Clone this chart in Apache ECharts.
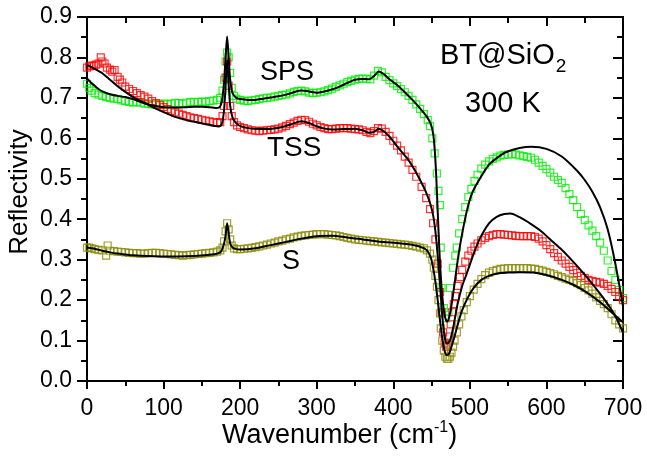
<!DOCTYPE html>
<html>
<head>
<meta charset="utf-8">
<script src="https://cdn.jsdelivr.net/npm/echarts@6/dist/echarts.min.js"></script>
<style>html,body{margin:0;padding:0;background:#fff}#c{width:647px;height:459px}</style>
</head>
<body>
<div id="c"></div>
<script>
// ---- data (wavenumber, reflectivity) ----
const xTicks = [0,100,200,300,400,500,600,700];
const yTicks = [0.0,0.1,0.2,0.3,0.4,0.5,0.6,0.7,0.8,0.9];

const spsData = [[0,0.735],[3,0.725],[6,0.718],[10,0.712],[15,0.708],[20,0.705],[25,0.702],[30,0.700],[35,0.698],[40,0.697],[45,0.694],[50,0.692],[55,0.690],[60,0.688],[65,0.690],[70,0.688],[75,0.686],[80,0.685],[85,0.684],[90,0.683],[95,0.685],[100,0.686],[105,0.684],[110,0.686],[115,0.688],[120,0.687],[125,0.686],[130,0.688],[135,0.690],[140,0.689],[145,0.690],[150,0.691],[155,0.690],[160,0.692],[165,0.693],[170,0.695],[174,0.700],[177,0.718],[179,0.745],[181,0.790],[183,0.812],[185,0.800],[187,0.762],[189,0.725],[192,0.705],[195,0.698],[200,0.695],[205,0.693],[210,0.692],[215,0.694],[220,0.695],[225,0.697],[230,0.699],[235,0.700],[240,0.701],[245,0.703],[250,0.705],[255,0.707],[260,0.708],[265,0.711],[270,0.715],[275,0.717],[280,0.718],[285,0.716],[290,0.713],[295,0.712],[300,0.713],[305,0.714],[310,0.716],[315,0.719],[320,0.723],[325,0.727],[330,0.731],[335,0.735],[340,0.739],[345,0.742],[350,0.745],[355,0.747],[360,0.748],[365,0.747],[370,0.746],[375,0.755],[380,0.767],[385,0.763],[390,0.752],[395,0.744],[400,0.736],[405,0.729],[410,0.722],[415,0.714],[420,0.705],[425,0.695],[430,0.684],[435,0.673],[440,0.660],[445,0.645],[448,0.630],[451,0.600],[454,0.563],[457,0.513],[459,0.470],[461,0.435],[462,0.330],[463,0.230],[466,0.180],[469,0.155],[472,0.170],[474,0.230],[478,0.280],[481,0.310],[483,0.330],[486,0.365],[490,0.400],[494,0.430],[498,0.455],[502,0.475],[506,0.495],[510,0.510],[515,0.525],[520,0.535],[525,0.543],[530,0.549],[535,0.553],[540,0.557],[545,0.559],[550,0.560],[555,0.561],[560,0.560],[565,0.558],[570,0.556],[575,0.554],[580,0.552],[585,0.547],[590,0.540],[595,0.532],[600,0.524],[605,0.515],[610,0.505],[615,0.497],[620,0.490],[625,0.477],[630,0.462],[635,0.447],[640,0.430],[645,0.413],[650,0.398],[655,0.385],[660,0.372],[665,0.358],[670,0.342],[675,0.322],[680,0.298],[685,0.272],[690,0.250],[695,0.225],[700,0.205]];

const spsFit = [[0,0.748],[5,0.738],[10,0.730],[15,0.722],[20,0.716],[30,0.709],[40,0.705],[50,0.702],[60,0.697],[70,0.690],[80,0.684],[90,0.680],[100,0.677],[110,0.676],[120,0.676],[130,0.677],[140,0.678],[150,0.678],[160,0.677],[168,0.675],[173,0.677],[176,0.690],[179,0.740],[181,0.800],[183,0.852],[185,0.800],[187,0.745],[190,0.712],[195,0.700],[200,0.697],[210,0.695],[220,0.695],[230,0.698],[240,0.701],[250,0.704],[260,0.708],[270,0.714],[280,0.718],[290,0.716],[300,0.713],[310,0.716],[320,0.721],[330,0.728],[340,0.737],[350,0.745],[360,0.747],[368,0.746],[375,0.754],[381,0.765],[388,0.758],[395,0.746],[405,0.732],[415,0.714],[425,0.695],[435,0.674],[444,0.653],[449,0.635],[452,0.612],[454,0.575],[456,0.510],[458,0.420],[460,0.330],[462,0.260],[464,0.210],[466,0.175],[468,0.155],[470,0.147],[472,0.152],[475,0.175],[480,0.240],[485,0.310],[490,0.365],[496,0.420],[503,0.465],[513,0.500],[525,0.535],[540,0.558],[550,0.568],[565,0.576],[580,0.579],[600,0.574],[620,0.555],[640,0.520],[650,0.497],[660,0.468],[670,0.430],[680,0.375],[690,0.290],[700,0.185]];

const tssData = [[0,0.775],[3,0.778],[6,0.780],[9,0.780],[12,0.782],[15,0.785],[18,0.800],[20,0.790],[23,0.785],[26,0.775],[30,0.770],[33,0.765],[36,0.769],[40,0.752],[43,0.745],[46,0.738],[50,0.728],[55,0.722],[60,0.717],[65,0.712],[70,0.707],[75,0.703],[80,0.698],[85,0.692],[90,0.687],[95,0.682],[100,0.677],[105,0.672],[110,0.668],[115,0.664],[120,0.661],[125,0.658],[130,0.655],[135,0.652],[140,0.650],[145,0.648],[150,0.646],[155,0.644],[160,0.642],[165,0.640],[170,0.638],[174,0.640],[177,0.655],[179,0.680],[181,0.750],[183,0.790],[185,0.730],[187,0.680],[189,0.655],[192,0.640],[196,0.632],[200,0.628],[205,0.625],[210,0.622],[215,0.620],[220,0.619],[225,0.618],[230,0.619],[235,0.620],[240,0.621],[245,0.622],[250,0.624],[255,0.627],[260,0.631],[265,0.635],[270,0.639],[275,0.643],[280,0.646],[285,0.645],[290,0.641],[295,0.636],[300,0.632],[305,0.628],[310,0.625],[315,0.623],[320,0.623],[325,0.624],[330,0.625],[335,0.625],[340,0.625],[345,0.624],[350,0.623],[355,0.622],[360,0.620],[365,0.616],[370,0.613],[375,0.618],[380,0.625],[385,0.624],[390,0.616],[395,0.606],[400,0.594],[405,0.582],[410,0.570],[415,0.555],[420,0.540],[425,0.522],[430,0.505],[437,0.480],[443,0.452],[448,0.425],[452,0.390],[455,0.350],[458,0.290],[461,0.220],[463,0.170],[465,0.120],[467,0.095],[469,0.085],[471,0.090],[473,0.110],[475,0.140],[477,0.170],[479,0.190],[481,0.210],[484,0.235],[487,0.257],[490,0.275],[494,0.295],[498,0.310],[502,0.322],[506,0.332],[510,0.340],[515,0.348],[520,0.354],[525,0.358],[530,0.361],[535,0.363],[540,0.363],[545,0.362],[550,0.361],[555,0.360],[560,0.359],[565,0.358],[570,0.358],[575,0.358],[580,0.358],[585,0.356],[590,0.352],[595,0.345],[600,0.336],[605,0.326],[610,0.316],[615,0.307],[620,0.298],[625,0.290],[630,0.282],[635,0.274],[640,0.267],[645,0.260],[650,0.255],[655,0.250],[660,0.247],[665,0.245],[670,0.243],[675,0.240],[680,0.235],[685,0.228],[690,0.220],[695,0.210],[700,0.200]];

const tssFit = [[0,0.781],[5,0.777],[10,0.772],[20,0.761],[30,0.745],[40,0.729],[50,0.715],[63,0.699],[75,0.688],[85,0.678],[100,0.665],[115,0.653],[130,0.645],[150,0.637],[165,0.631],[172,0.629],[176,0.635],[179,0.670],[181,0.730],[183,0.795],[185,0.735],[187,0.680],[190,0.652],[195,0.637],[202,0.629],[215,0.624],[235,0.623],[255,0.628],[270,0.637],[280,0.642],[290,0.638],[300,0.630],[310,0.624],[320,0.622],[335,0.623],[350,0.624],[360,0.620],[368,0.614],[375,0.616],[381,0.624],[388,0.617],[396,0.602],[405,0.580],[418,0.551],[427,0.525],[435,0.497],[442,0.470],[448,0.440],[452,0.410],[455,0.370],[458,0.310],[461,0.240],[464,0.160],[467,0.110],[470,0.092],[474,0.100],[478,0.130],[484,0.190],[490,0.235],[496,0.266],[505,0.315],[513,0.352],[525,0.390],[535,0.406],[545,0.413],[553,0.414],[565,0.405],[580,0.388],[592,0.372],[605,0.350],[618,0.328],[630,0.305],[644,0.276],[657,0.247],[670,0.216],[680,0.190],[690,0.160],[700,0.120]];

const sData = [[0,0.330],[3,0.330],[6,0.328],[10,0.326],[15,0.324],[20,0.323],[25,0.310],[27,0.335],[30,0.322],[35,0.321],[40,0.320],[45,0.319],[50,0.318],[55,0.317],[60,0.316],[65,0.316],[70,0.315],[75,0.315],[80,0.316],[85,0.317],[90,0.317],[95,0.316],[100,0.315],[105,0.314],[110,0.313],[115,0.312],[120,0.311],[125,0.310],[130,0.311],[135,0.312],[140,0.313],[145,0.314],[150,0.315],[155,0.316],[160,0.317],[165,0.318],[170,0.320],[174,0.323],[177,0.330],[179,0.345],[181,0.370],[183,0.390],[185,0.375],[187,0.350],[189,0.335],[192,0.328],[196,0.326],[200,0.326],[205,0.327],[210,0.328],[215,0.329],[220,0.331],[225,0.333],[230,0.335],[235,0.337],[240,0.340],[245,0.342],[250,0.345],[255,0.347],[260,0.350],[265,0.352],[270,0.355],[275,0.357],[280,0.359],[285,0.360],[290,0.361],[295,0.362],[300,0.363],[305,0.363],[310,0.363],[315,0.362],[320,0.361],[325,0.360],[330,0.358],[335,0.356],[340,0.354],[345,0.352],[350,0.350],[355,0.349],[360,0.348],[365,0.347],[370,0.346],[375,0.345],[380,0.344],[385,0.343],[390,0.342],[395,0.341],[400,0.340],[405,0.339],[410,0.338],[415,0.337],[420,0.336],[425,0.334],[430,0.332],[435,0.330],[440,0.328],[444,0.323],[448,0.315],[451,0.300],[453,0.280],[455,0.260],[457,0.233],[459,0.200],[461,0.167],[462,0.130],[464,0.100],[466,0.075],[468,0.060],[470,0.055],[472,0.055],[474,0.060],[476,0.070],[478,0.085],[480,0.100],[483,0.120],[486,0.140],[489,0.160],[492,0.175],[496,0.195],[500,0.210],[505,0.226],[510,0.240],[515,0.252],[520,0.262],[525,0.268],[530,0.272],[535,0.275],[540,0.277],[545,0.278],[550,0.279],[555,0.279],[560,0.279],[565,0.279],[570,0.279],[575,0.279],[580,0.278],[585,0.277],[590,0.275],[595,0.273],[600,0.270],[605,0.267],[610,0.264],[615,0.260],[620,0.257],[625,0.253],[630,0.250],[635,0.247],[640,0.242],[645,0.237],[650,0.230],[655,0.224],[660,0.216],[665,0.207],[670,0.198],[675,0.190],[680,0.180],[685,0.165],[690,0.150],[695,0.140],[700,0.130]];

const sFit = [[0,0.330],[10,0.327],[20,0.322],[30,0.318],[40,0.315],[50,0.313],[60,0.311],[80,0.309],[100,0.308],[120,0.308],[140,0.309],[160,0.312],[170,0.315],[175,0.320],[179,0.340],[181,0.360],[183,0.390],[185,0.365],[187,0.340],[190,0.330],[195,0.326],[200,0.325],[220,0.328],[240,0.336],[260,0.344],[280,0.352],[300,0.358],[320,0.359],[340,0.355],[360,0.350],[380,0.345],[400,0.342],[420,0.338],[435,0.332],[444,0.323],[449,0.305],[452,0.280],[455,0.245],[458,0.200],[461,0.150],[464,0.105],[467,0.075],[470,0.064],[473,0.068],[476,0.085],[480,0.110],[485,0.145],[490,0.175],[497,0.205],[505,0.230],[515,0.250],[525,0.260],[540,0.267],[550,0.268],[565,0.269],[583,0.268],[600,0.262],[620,0.250],[635,0.238],[650,0.222],[670,0.195],[685,0.170],[700,0.145]];

const seriesColors = { sps: '#00ee00', tss: '#ff0000', s: '#8a8a00' };

// ---- chart ----
const FONT = 'Liberation Sans, Arial, sans-serif';
const chart = echarts.init(document.getElementById('c'), null, { renderer: 'canvas' });

function axisCommon(extra) {
  return Object.assign({
    axisLine: { show: true, onZero: false, lineStyle: { color: '#000', width: 2 } },
    axisTick: { show: true, inside: false, length: 8, lineStyle: { color: '#000', width: 2 } },
    minorTick: { show: true, splitNumber: 2, length: 5, lineStyle: { color: '#000', width: 2 } },
    splitLine: { show: false },
    minorSplitLine: { show: false },
    axisLabel: { color: '#000', fontSize: 23, fontFamily: FONT }
  }, extra);
}

function scatter(data, color) {
  return {
    type: 'scatter', data: data, symbol: 'rect', symbolSize: 7,
    itemStyle: { color: 'rgba(0,0,0,0)', borderColor: color, borderWidth: 1.2 },
    silent: true, z: 2, xAxisIndex: 0, yAxisIndex: 0
  };
}
function fit(data) {
  return {
    type: 'line', data: data, showSymbol: false, smooth: 0.25,
    lineStyle: { color: '#000', width: 2 }, silent: true, z: 3, xAxisIndex: 0, yAxisIndex: 0
  };
}

const option = {
  animation: false,
  backgroundColor: '#fff',
  grid: { left: 87, right: 24, top: 17, bottom: 78, containLabel: false },
  xAxis: [
    axisCommon({ type: 'value', position: 'bottom', min: 0, max: 700, interval: 100,
      axisLabel: { color: '#000', fontSize: 23, fontFamily: FONT, margin: 16 } }),
    axisCommon({ type: 'value', position: 'top', min: 0, max: 700, interval: 100,
      axisTick: { show: true, inside: true, length: 9, lineStyle: { color: '#000', width: 2 } },
      minorTick: { show: true, splitNumber: 2, length: 6, lineStyle: { color: '#000', width: 2 } },
      axisLabel: { show: false } })
  ],
  yAxis: [
    axisCommon({ type: 'value', position: 'left', min: 0, max: 0.9, interval: 0.1,
      axisTick: { show: true, inside: false, length: 10, lineStyle: { color: '#000', width: 2 } },
      minorTick: { show: true, splitNumber: 2, length: 6, lineStyle: { color: '#000', width: 2 } },
      axisLabel: { color: '#000', fontSize: 23, fontFamily: FONT, margin: 15,
        formatter: v => v.toFixed(1) } }),
    axisCommon({ type: 'value', position: 'right', min: 0, max: 0.9, interval: 0.1,
      axisTick: { show: true, inside: true, length: 10, lineStyle: { color: '#000', width: 2 } },
      minorTick: { show: true, splitNumber: 2, length: 6, lineStyle: { color: '#000', width: 2 } },
      axisLabel: { show: false } })
  ],
  series: [
    scatter(spsData, seriesColors.sps),
    scatter(tssData, seriesColors.tss),
    scatter(sData, seriesColors.s),
    fit(spsFit),
    fit(tssFit),
    fit(sFit)
  ],
  graphic: [
    { type: 'text', x: 20, y: 192, rotation: Math.PI / 2,
      style: { text: 'Reflectivity', font: '26px ' + FONT, fill: '#000', align: 'center', verticalAlign: 'middle' } },
    { type: 'text', x: 222, y: 436,
      style: { text: '{m|Wavenumber (cm}{s|-1}{m|)}', fill: '#000', align: 'left', verticalAlign: 'middle',
        rich: { m: { fontSize: 27, fontFamily: FONT, fill: '#000' },
                s: { fontSize: 16, fontFamily: FONT, fill: '#000', padding: [0, 0, 16, 0] } } } },
    { type: 'text', x: 260, y: 73,
      style: { text: 'SPS', font: '27px ' + FONT, fill: '#000', align: 'left', verticalAlign: 'middle' } },
    { type: 'text', x: 267, y: 148,
      style: { text: 'TSS', font: '28px ' + FONT, fill: '#000', align: 'left', verticalAlign: 'middle' } },
    { type: 'text', x: 282, y: 262,
      style: { text: 'S', font: '27px ' + FONT, fill: '#000', align: 'left', verticalAlign: 'middle' } },
    { type: 'text', x: 440, y: 56,
      style: { text: '{m|BT@SiO}{s|2}', fill: '#000', align: 'left', verticalAlign: 'middle',
        rich: { m: { fontSize: 29, fontFamily: FONT, fill: '#000' },
                s: { fontSize: 19, fontFamily: FONT, fill: '#000', padding: [22, 0, 0, 1] } } } },
    { type: 'text', x: 465, y: 104,
      style: { text: '300 K', font: '29px ' + FONT, fill: '#000', align: 'left', verticalAlign: 'middle' } }
  ]
};
chart.setOption(option);
</script>
</body>
</html>
